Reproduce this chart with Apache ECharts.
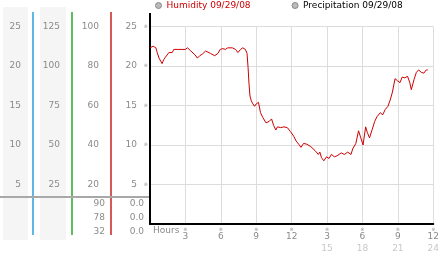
<!DOCTYPE html>
<html><head><meta charset="utf-8">
<script src="https://cdn.jsdelivr.net/npm/echarts@6/dist/echarts.min.js"></script>
<style>html,body{margin:0;padding:0;background:#fff}#c{width:442px;height:253px}</style>
</head><body><div id="c"></div>
<script>
// ---- data ----
const hours = [0.00,0.27,0.50,0.61,0.77,0.91,1.02,1.16,1.30,1.44,1.60,1.74,1.88,2.02,2.16,2.35,2.49,2.63,2.77,2.99,3.18,3.32,3.46,3.60,3.82,4.01,4.21,4.43,4.57,4.71,4.84,5.12,5.48,5.76,5.95,6.17,6.39,6.59,6.98,7.25,7.45,7.67,7.86,8.08,8.22,8.31,8.39,8.47,8.58,8.72,8.86,9.00,9.19,9.36,9.55,9.83,10.11,10.30,10.47,10.66,10.80,11.07,11.35,11.63,11.90,12.18,12.38,12.60,12.79,13.01,13.29,13.62,13.98,14.26,14.39,14.53,14.73,14.95,15.17,15.37,15.64,15.92,16.20,16.47,16.75,17.03,17.17,17.44,17.67,17.86,18.05,18.27,18.41,18.60,18.83,19.04,19.24,19.52,19.71,19.93,20.16,20.35,20.54,20.76,20.99,21.18,21.37,21.59,21.82,22.01,22.14,22.37,22.57,22.76,22.98,23.20,23.40,23.53];
const humidity = [22.3,22.5,22.3,21.7,21.0,20.6,20.3,20.8,21.1,21.0,21.7,21.9,21.7,22.1,21.9,22.1,21.9,22.1,21.9,22.1,22.3,22.1,21.9,21.7,21.4,21.0,21.3,21.5,21.7,21.9,22.1,21.6,21.3,21.6,22.1,22.2,22.1,22.3,22.3,22.1,21.7,22.1,22.3,22.1,21.6,19.8,17.7,16.2,15.6,15.2,14.9,15.2,15.4,14.1,13.5,12.8,13.0,13.3,12.5,11.9,12.3,12.2,12.3,12.2,11.7,11.1,10.5,10.1,9.7,10.2,10.1,9.8,9.3,8.8,9.1,8.4,8.0,8.5,8.3,8.8,8.5,8.7,9.0,8.8,9.1,8.8,9.5,10.2,11.8,10.9,10.0,12.3,11.6,10.9,12.0,13.0,13.6,14.1,13.8,14.5,14.9,15.7,16.7,18.4,18.1,17.9,18.6,18.5,18.7,17.9,17.0,18.3,19.2,19.5,19.2,19.1,19.5,19.5];
const precipitation = [];
const hourTickTop = {3:'3',6:'6',9:'9',12:'12',15:'3',18:'6',21:'9',24:'12'};
const hourTickBottom = {15:'15',18:'18',21:'21',24:'24'};
const col3Extra = ['90','78','32'];
const col4Extra = ['0.0','0.0','0.0'];
const legendNames = ['Humidity 09/29/08','Precipitation 09/29/08'];

const FONT = 'DejaVu Sans';
const GRAY = '#8a8a8a';
const chart = echarts.init(document.getElementById('c'), null, {renderer:'canvas'});

function valAxis(max, interval, margin, extra){
  return Object.assign({
    type:'value', gridIndex:0, position:'left', min:0, max:max, interval:interval,
    axisLine:{show:false}, axisTick:{show:false}, splitLine:{show:false},
    axisLabel:{showMinLabel:false, margin:margin, color:GRAY, fontFamily:FONT, fontSize:9}
  }, extra||{});
}

const graphics = [];
graphics.push({type:'rect', z:-10, shape:{x:3,y:7,width:25,height:233}, style:{fill:'#f5f5f5'}});
graphics.push({type:'rect', z:-10, shape:{x:40,y:7,width:26,height:233}, style:{fill:'#f5f5f5'}});
[[33,'#1a9ad8'],[72,'#1aa01a'],[111,'#c81010']].forEach(function(p){
  graphics.push({type:'line', z:-5, shape:{x1:p[0],y1:12,x2:p[0],y2:235}, style:{stroke:p[1],lineWidth:1.4}});
});
graphics.push({type:'rect', z:-4, shape:{x:0,y:196,width:150,height:2}, style:{fill:'#a8a8a8'}});
graphics.push({type:'rect', z:5, shape:{x:149,y:13,width:2,height:14}, style:{fill:'#000'}});
col3Extra.forEach(function(t,i){
  graphics.push({type:'text', style:{text:t, x:105, y:204+i*14, align:'right', verticalAlign:'middle', fill:GRAY, font:'9px "'+FONT+'"'}});
});
col4Extra.forEach(function(t,i){
  graphics.push({type:'text', style:{text:t, x:144, y:204+i*14, align:'right', verticalAlign:'middle', fill:GRAY, font:'9px "'+FONT+'"'}});
});

chart.setOption({
  animation:false,
  backgroundColor:'#fff',
  textStyle:{fontFamily:FONT},
  legend:{
    left:155, top:1, padding:0, itemGap:41, itemWidth:6, itemHeight:6, icon:'circle',
    textStyle:{fontFamily:FONT, fontSize:9},
    data:[
      {name:legendNames[0], textStyle:{color:'#cc0000'}, itemStyle:{color:'#bbb', borderColor:'#888', borderWidth:1}},
      {name:legendNames[1], textStyle:{color:'#000'}, itemStyle:{color:'#bbb', borderColor:'#888', borderWidth:1}}
    ]
  },
  grid:{left:150, right:3, top:26.5, bottom:28, containLabel:false},
  xAxis:{
    type:'value', min:0, max:24, interval:3,
    axisLine:{show:true, lineStyle:{color:'#000', width:2}},
    axisTick:{show:false},
    splitLine:{show:true, lineStyle:{color:'#dcdcdc', width:1}},
    axisLabel:{
      margin:3, alignMinLabel:'left', fontFamily:FONT, fontSize:9, color:GRAY, verticalAlign:'top',
      formatter:function(v){
        if (v===0) return '{h|Hours}';
        let s = '{m|※}\n{a|'+hourTickTop[v]+'}';
        if (hourTickBottom[v]) s += '\n{b|'+hourTickBottom[v]+'}';
        return s;
      },
      rich:{
        h:{fontFamily:FONT, fontSize:9, color:GRAY, lineHeight:8, padding:[0,0,0,3]},
        m:{fontFamily:FONT, fontSize:5, color:'#999', lineHeight:5},
        a:{fontFamily:FONT, fontSize:9, color:GRAY, lineHeight:9},
        b:{fontFamily:FONT, fontSize:9, color:'#c8c8c8', lineHeight:15}
      }
    }
  },
  yAxis:[
    valAxis(25,5,13,{axisLine:{show:true, lineStyle:{color:'#000', width:2}}, splitLine:{show:true, lineStyle:{color:'#dcdcdc', width:1}}}),
    valAxis(25,5,2,{axisLabel:{showMinLabel:false, margin:2, color:'#999', fontFamily:FONT, fontSize:5, formatter:function(){return '※';}}}),
    valAxis(100,20,51),
    valAxis(125,25,90),
    valAxis(25,5,129)
  ],
  graphic:graphics,
  series:[
    {name:legendNames[0], type:'line', xAxisIndex:0, yAxisIndex:0, symbol:'none',
     lineStyle:{color:'#cc0000', width:1}, itemStyle:{color:'#cc0000'},
     data:hours.map(function(h,i){return [h, humidity[i]];})},
    {name:legendNames[1], type:'line', xAxisIndex:0, yAxisIndex:0, symbol:'none',
     lineStyle:{color:'#666', width:1}, data:precipitation}
  ]
});
</script></body></html>
